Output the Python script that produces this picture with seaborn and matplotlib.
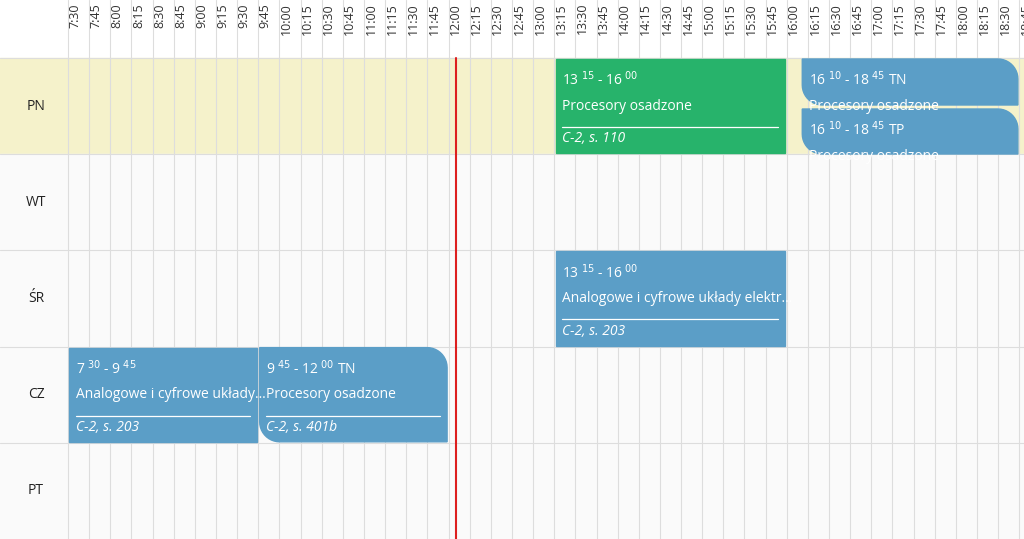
import matplotlib
matplotlib.use("Agg")
import matplotlib.pyplot as plt
import seaborn as sns
import numpy as np
from matplotlib.patches import Rectangle, PathPatch, Polygon
from matplotlib.path import Path

sns.set_style("white")
plt.rcParams["font.family"] = "Open Sans"

days = ["PN", "WT", "ŚR", "CZ", "PT"]
slot_labels = [f"{h}:{m:02d}" for h in range(7, 19) for m in (0, 15, 30, 45)][2:]
ev_day = [0, 0, 0, 2, 3, 3]
ev_start = ["13:15", "16:10", "16:10", "13:15", "7:30", "9:45"]
ev_end = ["16:00", "18:45", "18:45", "16:00", "9:45", "12:00"]
ev_suffix = ["", " TN", " TP", "", "", " TN"]
ev_title = ["Procesory osadzone", "Procesory osadzone", "Procesory osadzone",
            "Analogowe i cyfrowe układy elektr…", "Analogowe i cyfrowe układy…",
            "Procesory osadzone"]
ev_room = ["C-2, s. 110", "", "", "C-2, s. 203", "C-2, s. 203", "C-2, s. 401b"]
ev_sub = [0, 1, 2, 0, 0, 0]
ev_color = ["green", "blue", "blue", "blue", "blue", "blue"]
ev_round = [False, True, True, False, False, True]
now_time = "12:00"

COL = {"green": "#27b36b", "blue": "#5b9ec7"}
def mins(s):
    h, m = s.split(":"); return int(h) * 60 + int(m)

ppm = 21.14 / 15
x0 = 450 - 68 / ppm
fig = plt.figure(figsize=(10.24, 5.39), dpi=100)
ax = fig.add_axes([0, 0, 1, 1])
ax.set_xlim(x0, x0 + 1024 / ppm)
ax.set_ylim(539, 0)
ax.axis("off")
def px(t): return x0 + t / ppm

top, rh = 58, 96.2
for i, d in enumerate(days):
    y = top + i * rh
    ax.add_patch(Rectangle((x0, y), 2000, rh, color="#f5f2cb" if i == 0 else "#fafafa", zorder=0))
    ax.plot([x0, x0 + 2000], [y, y], color="#dddddd", lw=0.8, zorder=1)
    ax.text(px(36), y + rh / 2, d, ha="center", va="center", fontsize=10, color="#222222")
for lab in slot_labels:
    t = mins(lab)
    ax.plot([t, t], [0, 539], color="#dddddd", lw=0.8, zorder=1)
    ax.text(t + 5, 3, lab, rotation=90, ha="center", va="top", fontsize=9, color="#333333")
ax.plot([mins(now_time) + 5] * 2, [top, 539], color="#dd1f1f", lw=1.5, zorder=5)

def tlabel(s, e, suf):
    h1, m1 = s.split(":"); h2, m2 = e.split(":")
    return f"{h1}$^{{\\ {m1}}}$ - {h2}$^{{\\ {m2}}}$" + suf

def shape(xs, xe, y, h, r, rnd):
    rx = r * 15 / 21.14
    if not rnd:
        rx, r = 1.4, 2
        pts = [(xs, y), (xe, y), (xe, y + h), (xs, y + h)]
        return Polygon(pts, closed=True)
    a = np.linspace(0, np.pi / 2, 12)
    pts = [(xs, y), (xe - rx, y)]
    pts += [(xe - rx + rx * np.sin(t), y + r - r * np.cos(t)) for t in a]
    pts += [(xe, y + h), (xs + rx, y + h)]
    pts += [(xs + rx - rx * np.sin(t), y + h - r + r * np.cos(t)) for t in a]
    return Polygon(pts, closed=True)

for d, s, e, suf, ti, ro, sub, c, rnd in zip(ev_day, ev_start, ev_end, ev_suffix, ev_title,
                                             ev_room, ev_sub, ev_color, ev_round):
    xs, xe = mins(s) + 1, mins(e) - 1
    y = top + d * rh + 1
    h = rh - 2
    if sub == 1: h = 46
    if sub == 2: y, h = y + 50, 45
    p = shape(xs, xe, y, h, 20, rnd)
    p.set_color(COL[c]); p.set_zorder(3)
    ax.add_patch(p)
    tx = xs + 4.5
    ax.text(tx, y + 21, tlabel(s, e, suf), color="white", fontsize=10, va="center", zorder=4)
    t2 = ax.text(tx, y + 47, ti, color="white", fontsize=10, va="center", zorder=4)
    t2.set_clip_path(p)
    if ro:
        ax.plot([tx, xe - 5], [y + 68, y + 68], color="white", lw=0.9, zorder=4)
        ax.text(tx, y + 80, ro, color="white", fontsize=10, style="italic", va="center", zorder=4)

fig.savefig("out.png", dpi=100)
